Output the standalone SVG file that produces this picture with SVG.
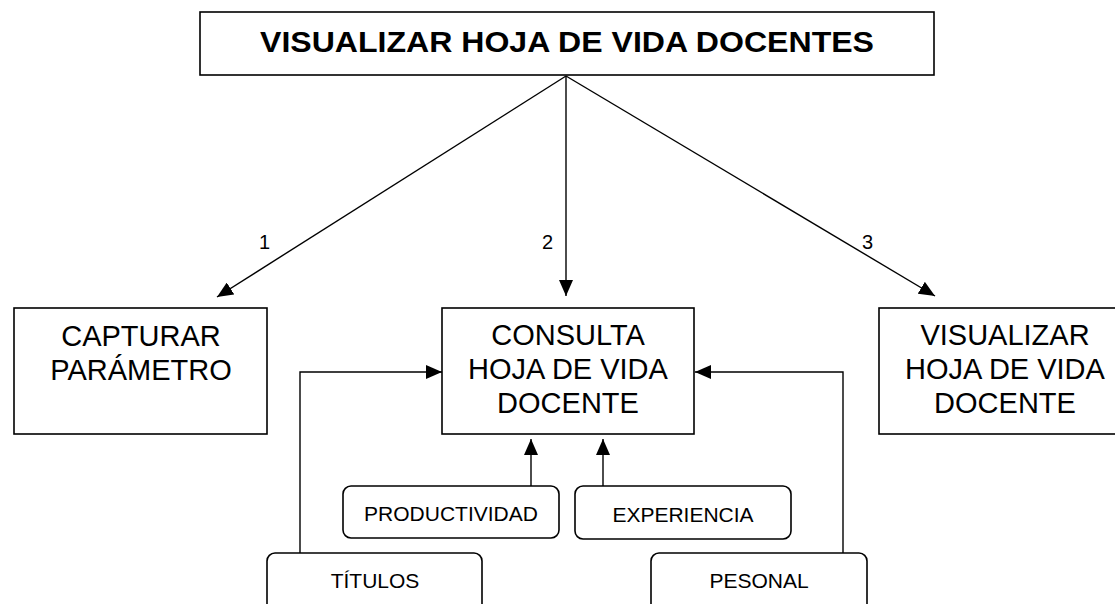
<svg xmlns="http://www.w3.org/2000/svg" width="1115" height="604" viewBox="0 0 1115 604">
<style>
.box{fill:#fff;stroke:#000;stroke-width:1.6}
.rbox{fill:#fff;stroke:#000;stroke-width:1.6}
.big{font-family:"Liberation Sans",Arial,sans-serif;font-size:29px;fill:#000;text-anchor:middle}
.title{font-family:"Liberation Sans",Arial,sans-serif;font-size:29px;font-weight:bold;fill:#000;text-anchor:middle}
.small{font-family:"Liberation Sans",Arial,sans-serif;font-size:21px;fill:#000;text-anchor:middle}
.lbl{font-family:"Liberation Sans",Arial,sans-serif;font-size:20px;fill:#000}
.edge{fill:none;stroke:#000;stroke-width:1.4}
</style>
<defs>
<marker id="arr" markerUnits="userSpaceOnUse" markerWidth="16" markerHeight="14" refX="16" refY="7" orient="auto">
<path d="M0,0 L16,7 L0,14 Z" fill="#000"/>
</marker>
</defs>
<rect width="1115" height="604" fill="#fff"/>
<g id="connectors">
<line class="edge" x1="566" y1="76" x2="217" y2="297" marker-end="url(#arr)"/>
<line class="edge" x1="566" y1="76" x2="566" y2="296" marker-end="url(#arr)"/>
<line class="edge" x1="566" y1="76" x2="935" y2="296" marker-end="url(#arr)"/>
<polyline class="edge" points="300,553 300,372 442,372" marker-end="url(#arr)"/>
<polyline class="edge" points="843,553 843,372 695,372" marker-end="url(#arr)"/>
<line class="edge" x1="531" y1="486" x2="531" y2="439" marker-end="url(#arr)"/>
<line class="edge" x1="603" y1="486" x2="603" y2="439" marker-end="url(#arr)"/>
<text class="lbl" x="259" y="249">1</text>
<text class="lbl" x="542" y="249">2</text>
<text class="lbl" x="862" y="249">3</text>
</g>
<g id="titulo">
<rect class="box" x="200" y="12" width="734" height="63"/>
<text class="title" x="567" y="52" textLength="614" lengthAdjust="spacingAndGlyphs">VISUALIZAR HOJA DE VIDA DOCENTES</text>
</g>
<g id="capturar">
<rect class="box" x="14" y="308" width="253" height="126"/>
<text class="big" x="141" y="346">CAPTURAR</text>
<text class="big" x="141" y="380">PARÁMETRO</text>
</g>
<g id="consulta">
<rect class="box" x="442" y="308" width="252" height="126"/>
<text class="big" x="568" y="345">CONSULTA</text>
<text class="big" x="568" y="379">HOJA DE VIDA</text>
<text class="big" x="568" y="413">DOCENTE</text>
</g>
<g id="visualizar">
<rect class="box" x="879" y="308" width="253" height="126"/>
<text class="big" x="1005" y="345">VISUALIZAR</text>
<text class="big" x="1005" y="379">HOJA DE VIDA</text>
<text class="big" x="1005" y="413">DOCENTE</text>
</g>
<g id="productividad">
<rect class="rbox" x="343" y="486" width="216" height="52" rx="8"/>
<text class="small" x="451" y="521">PRODUCTIVIDAD</text>
</g>
<g id="experiencia">
<rect class="rbox" x="575" y="486" width="216" height="53" rx="8"/>
<text class="small" x="683" y="522">EXPERIENCIA</text>
</g>
<g id="titulos">
<rect class="rbox" x="267" y="553" width="215" height="70" rx="8"/>
<text class="small" x="375" y="588">TÍTULOS</text>
</g>
<g id="pesonal">
<rect class="rbox" x="651" y="553" width="216" height="70" rx="8"/>
<text class="small" x="759" y="588">PESONAL</text>
</g>
</svg>
